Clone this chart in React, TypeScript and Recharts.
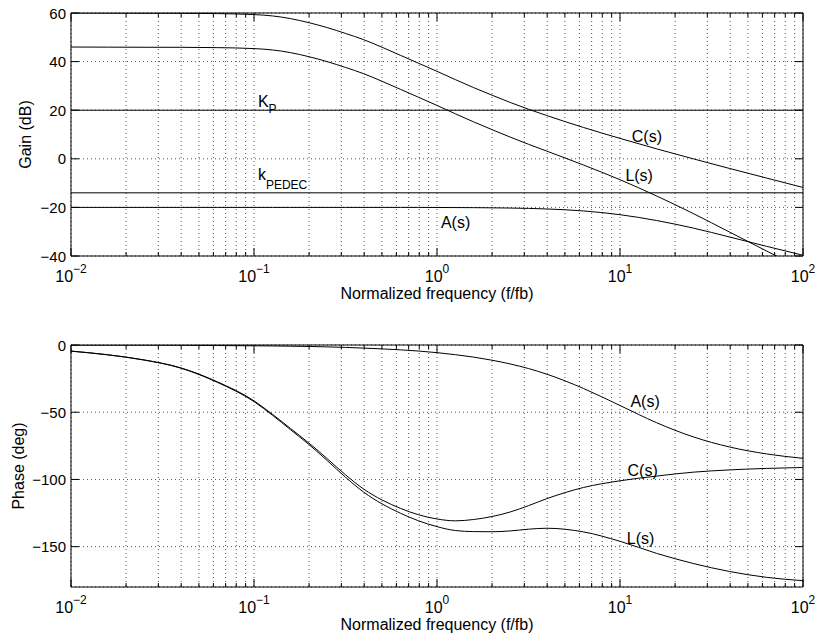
import React from "react";
import {
  CartesianGrid,
  Line,
  LineChart,
  ReferenceDot,
  ReferenceLine,
  XAxis,
  YAxis,
} from "recharts";

// normalized frequency f/fb
const freq = [
  0.01, 0.0158, 0.0251, 0.0398, 0.0631, 0.1, 0.126, 0.158, 0.2, 0.251, 0.316,
  0.398, 0.501, 0.631, 0.794, 1, 1.259, 1.585, 1.995, 2.512, 3.16, 3.98, 6.31,
  10, 15.85, 25.1, 39.8, 63.1, 100,
];

// gain (dB)
const cGain = [
  60, 59.95, 59.9, 59.88, 59.75, 59.35, 58.8, 57.7, 56, 54, 51.6, 49, 45.9,
  42.6, 39.3, 36, 32.6, 29.3, 26.2, 23.2, 20.4, 17.8, 12.9, 8.4, 4.1, 0, -4,
  -7.9, -11.8,
];
const lGain = [
  46, 45.95, 45.9, 45.88, 45.75, 45.35, 44.8, 43.7, 42, 40, 37.6, 35, 31.9,
  28.6, 25.3, 21.96, 18.53, 15.2, 12.03, 8.93, 5.99, 3.16, -2.55, -8.6, -15.3,
  -22.5, -30.2, -37.9, -45.5,
];
const aGain = [
  -20, -20, -20, -20, -20, -20, -20, -20, -20, -20, -20, -20, -20, -20, -20,
  -20.04, -20.07, -20.1, -20.17, -20.27, -20.41, -20.64, -21.45, -23, -25.4,
  -28.5, -32.2, -36, -39.7,
];
const kP = 20;
const kPedec = -14;

// phase (deg)
const cPhase = [
  -4.5, -7.2, -11.1, -17, -27.4, -41.5, -51.5, -62, -73, -84.5, -96.5, -107.2,
  -115.3, -121.5, -126.3, -129.4, -130.8, -129.8, -127.6, -124.2, -119.5,
  -114.3, -106, -101, -97.5, -94.6, -92.9, -91.8, -91.1,
];
const lPhase = [
  -4.6, -7.3, -11.2, -17.2, -27.8, -42.1, -52.2, -62.9, -74.1, -85.9, -98.3,
  -109.5, -118.2, -125.1, -130.8, -135.1, -138, -138.8, -138.9, -138.3, -137,
  -136.3, -139, -146, -155, -162.5, -168.5, -172.8, -175.3,
];
const aPhase = [
  -0.1, -0.1, -0.1, -0.2, -0.4, -0.6, -0.7, -0.9, -1.1, -1.4, -1.8, -2.3,
  -2.9, -3.6, -4.5, -5.7, -7.2, -9, -11.3, -14.1, -17.5, -21.7, -32.3, -45,
  -57.8, -68.3, -75.9, -81, -84.3,
];

// axes
const gridTicks = [
  0.01, 0.02, 0.03, 0.04, 0.05, 0.06, 0.07, 0.08, 0.09, 0.1, 0.2, 0.3, 0.4,
  0.5, 0.6, 0.7, 0.8, 0.9, 1, 2, 3, 4, 5, 6, 7, 8, 9, 10, 20, 30, 40, 50, 60,
  70, 80, 90, 100,
];
const majorTicks = [0.01, 0.1, 1, 10, 100];
const majorExp = ["\u22122", "\u22121", "0", "1", "2"];
const gainTicks = [-40, -20, 0, 20, 40, 60];
const phaseTicks = [-150, -100, -50, 0];

const gainNotes = [
  { text: "K", sub: "P", f: 0.105, v: 21.4, subDy: 6 },
  { text: "k", sub: "PEDEC", f: 0.105, v: -8.6, subDy: 9 },
  { text: "A(s)", sub: "", f: 1.05, v: -28.4, subDy: 0 },
  { text: "C(s)", sub: "", f: 11.6, v: 7.1, subDy: 0 },
  { text: "L(s)", sub: "", f: 10.7, v: -9.3, subDy: 0 },
];
const phaseNotes = [
  { text: "A(s)", sub: "", f: 11.4, v: -46.3, subDy: 0 },
  { text: "C(s)", sub: "", f: 11.0, v: -97.3, subDy: 0 },
  { text: "L(s)", sub: "", f: 10.9, v: -148, subDy: 0 },
];

const gainData = freq.map((f, i) => ({ f, C: cGain[i], L: lGain[i], A: aGain[i] }));
const phaseData = freq.map((f, i) => ({ f, C: cPhase[i], L: lPhase[i], A: aPhase[i] }));

const FONT = "'Liberation Sans', Arial, Helvetica, sans-serif";

const isMajor = (v: number) =>
  majorTicks.findIndex((m) => Math.abs(Math.log10(m) - Math.log10(v)) < 1e-6);

function XTick(props: any) {
  const { x, y, payload, side } = props;
  const idx = isMajor(payload.value);
  const len = idx >= 0 ? 8 : 4;
  if (side === "top") {
    return <line x1={x} x2={x} y1={y} y2={y + len} stroke="#000" />;
  }
  return (
    <g>
      <line x1={x} x2={x} y1={y} y2={y - len} stroke="#000" />
      {idx >= 0 && (
        <text x={x} y={y + 26} textAnchor="middle" fontSize={16} fill="#000">
          10
          <tspan dy={-9} fontSize={12}>
            {majorExp[idx]}
          </tspan>
        </text>
      )}
    </g>
  );
}

function YTick(props: any) {
  const { x, y, payload, side } = props;
  if (side === "right") {
    return <line x1={x} x2={x - 8} y1={y} y2={y} stroke="#000" />;
  }
  const v = payload.value;
  const label = v < 0 ? "\u2212" + Math.abs(v) : String(v);
  return (
    <g>
      <line x1={x + 5} x2={x + 13} y1={y} y2={y} stroke="#000" />
      <text x={x} y={y} dy={5.5} textAnchor="end" fontSize={15} fill="#000">
        {label}
      </text>
    </g>
  );
}

function yTitle(text: string, dx: number) {
  return (p: any) => {
    const vb = p.viewBox;
    const cx = vb.x + dx;
    const cy = vb.y + vb.height / 2;
    return (
      <text
        x={cx}
        y={cy}
        transform={`rotate(-90, ${cx}, ${cy})`}
        textAnchor="middle"
        fontSize={16}
        fill="#000"
      >
        {text}
      </text>
    );
  };
}

function xTitle(p: any) {
  const vb = p.viewBox;
  return (
    <text x={vb.x + vb.width / 2} y={vb.y + 43} textAnchor="middle" fontSize={16} fill="#000">
      Normalized frequency (f/fb)
    </text>
  );
}

function Note(props: any) {
  const { cx, cy, note } = props;
  return (
    <text x={cx} y={cy} fontSize={16} fill="#000">
      {note.text}
      {note.sub && (
        <tspan dy={note.subDy} fontSize={12}>
          {note.sub}
        </tspan>
      )}
    </text>
  );
}

function BodePanel(props: any) {
  const { data, height, margin, domain, ticks, title, titleDx, notes, refs } = props;
  return (
    <LineChart width={817} height={height} data={data} margin={margin}>
      <CartesianGrid stroke="#555" strokeDasharray="1 3" />
      <XAxis
        dataKey="f"
        type="number"
        scale="log"
        domain={[0.01, 100]}
        ticks={gridTicks}
        interval={0}
        allowDataOverflow
        height={50}
        tickSize={0}
        tickMargin={0}
        tickLine={false}
        axisLine={{ stroke: "#000" }}
        tick={<XTick side="bottom" />}
        label={xTitle}
      />
      <XAxis
        xAxisId="t"
        orientation="top"
        dataKey="f"
        type="number"
        scale="log"
        domain={[0.01, 100]}
        ticks={gridTicks}
        interval={0}
        allowDataOverflow
        height={5}
        tickSize={0}
        tickMargin={0}
        tickLine={false}
        axisLine={{ stroke: "#000" }}
        tick={<XTick side="top" />}
      />
      <YAxis
        type="number"
        domain={domain}
        ticks={ticks}
        interval={0}
        allowDataOverflow
        width={60}
        tickSize={0}
        tickMargin={5}
        tickLine={false}
        axisLine={{ stroke: "#000" }}
        tick={<YTick side="left" />}
        label={yTitle(title, titleDx)}
      />
      <YAxis
        yAxisId="r"
        orientation="right"
        type="number"
        domain={domain}
        ticks={ticks}
        interval={0}
        allowDataOverflow
        width={10}
        tickSize={0}
        tickMargin={0}
        tickLine={false}
        axisLine={{ stroke: "#000" }}
        tick={<YTick side="right" />}
      />
      {refs.map((r: number) => (
        <ReferenceLine key={r} y={r} stroke="#000" strokeWidth={1} />
      ))}
      {["C", "L", "A"].map((k) => (
        <Line
          key={k}
          type="monotone"
          dataKey={k}
          stroke="#000"
          strokeWidth={1}
          dot={false}
          activeDot={false}
          isAnimationActive={false}
        />
      ))}
      {notes.map((n: any) => (
        <ReferenceDot
          key={n.text + n.v}
          x={n.f}
          y={n.v}
          r={0}
          shape={(p: any) => <Note cx={p.cx} cy={p.cy} note={n} />}
        />
      ))}
    </LineChart>
  );
}

export default function App() {
  return (
    <div
      style={{
        position: "absolute",
        left: 0,
        top: 0,
        width: 817,
        height: 641,
        background: "#fff",
        fontFamily: FONT,
      }}
    >
      <div style={{ position: "absolute", left: 0, top: 0 }}>
        <BodePanel
          data={gainData}
          height={320}
          margin={{ top: 8, right: 4, bottom: 14, left: 11 }}
          domain={[-40, 60]}
          ticks={gainTicks}
          title="Gain (dB)"
          titleDx={20}
          notes={gainNotes}
          refs={[kP, kPedec]}
        />
      </div>
      <div style={{ position: "absolute", left: 0, top: 320 }}>
        <BodePanel
          data={phaseData}
          height={321}
          margin={{ top: 20, right: 4, bottom: 4, left: 11 }}
          domain={[-180, 0]}
          ticks={phaseTicks}
          title="Phase (deg)"
          titleDx={12.5}
          notes={phaseNotes}
          refs={[]}
        />
      </div>
    </div>
  );
}
